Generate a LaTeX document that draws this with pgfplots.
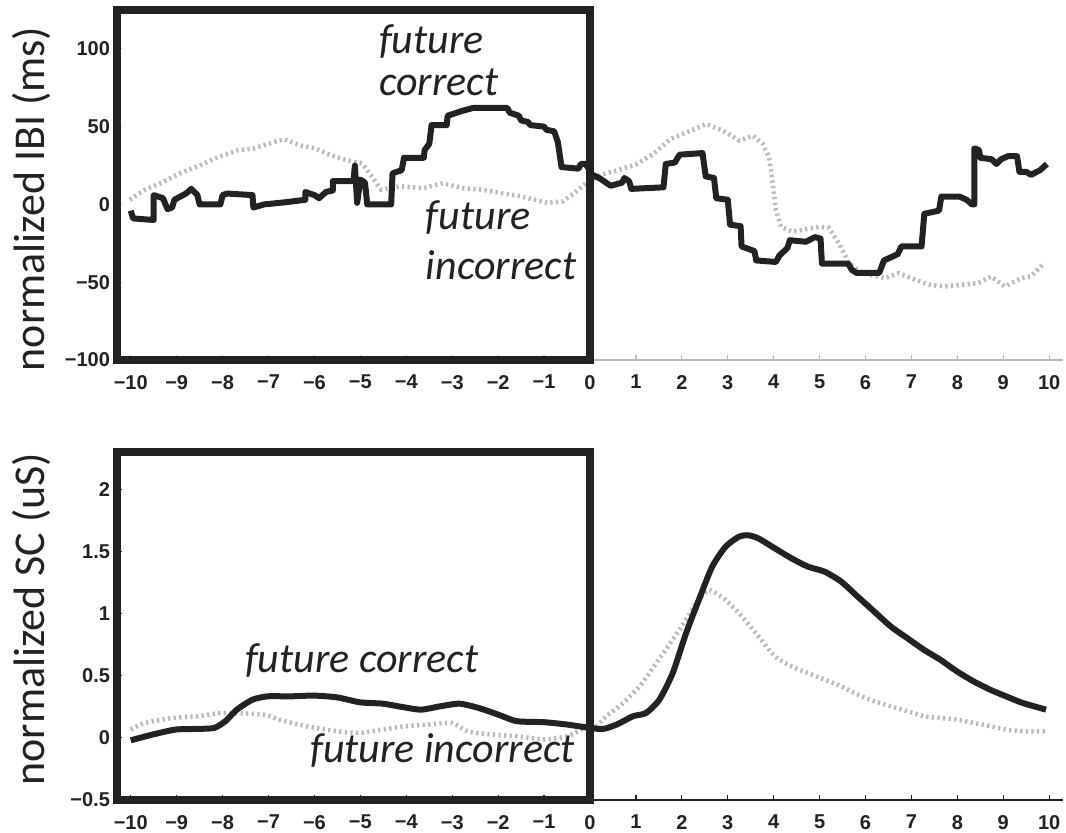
\documentclass[border=0pt]{standalone}
\usepackage{fontspec}
\setmainfont{Carlito}
\newfontfamily\tickfont{Liberation Sans}
\usepackage{pgfplots}
\pgfplotsset{compat=1.18}
\definecolor{ink}{HTML}{222222}
\definecolor{dotgray}{HTML}{B8B8B8}

\tikzset{
  corr/.style={ink, line width=3pt, line join=round},
  incorr/.style={dotgray, line width=2.3pt, dash pattern=on 1.1pt off 1.7pt},
  annot/.style={font=\itshape\fontsize{21}{22}\selectfont, text=ink, anchor=base west, inner sep=0pt},
  ylab/.style={font=\fontsize{22}{23}\selectfont, text=ink, rotate=90, anchor=center},
}
\pgfplotsset{
  panel/.style={
    scale only axis, width=473pt,
    xmin=-10.3, xmax=10.3,
    axis x line*=bottom, axis y line*=left,
    tick align=inside, major tick length=2.5pt,
    xtick={-10,-9,-8,-7,-6,-5,-4,-3,-2,-1,0,1,2,3,4,5,6,7,8,9,10},
    xticklabels={−10,−9,−8,−7,−6,−5,−4,−3,−2,−1,0,1,2,3,4,5,6,7,8,9,10},
    ticklabel style={font=\tickfont\bfseries\fontsize{10}{12}\selectfont, text=ink},
    xticklabel style={yshift=-4pt},
    clip=false,
  },
}

\begin{document}
\begin{tikzpicture}
\useasboundingbox (-58.5pt,-236.5pt) rectangle (474.5pt,180pt);

% ---------------- top panel ----------------
\begin{axis}[panel, at={(0,0)}, height=175pt,
  ymin=-100, ymax=125,
  ytick={-100,-50,0,50,100},
  yticklabels={−100,−50,0,50,100},
  axis line style={gray!55, line width=0.8pt},
  tick style={gray!55, line width=0.6pt},
]
\addplot[incorr] coordinates {
(-10.02,3) (-9.69,9.5) (-9.35,13.7) (-8.93,20) (-8.5,25) (-8.09,30.6)
(-7.67,34.8) (-7.33,36) (-7.0,39) (-6.66,42) (-6.32,38) (-5.98,36)
(-5.64,31.6) (-5.3,28.5) (-4.97,26.4) (-4.8,20) (-4.55,9.5) (-4.13,11.6)
(-3.62,10.5) (-3.2,13.7) (-2.78,10.5) (-2.36,9.5) (-1.94,7.4) (-1.52,5.3)
(-0.93,1) (-0.59,2) (-0.34,7.4) (-0.08,13.7) (0.22,19) (0.59,21.8)
(1.02,26) (1.38,32.5) (1.75,42) (2.1,46.3) (2.53,51.6) (2.9,47.4)
(3.25,41) (3.55,44.2) (3.76,38.9) (3.9,30.4) (3.98,13.3) (4.05,-3.7)
(4.16,-14.4) (4.4,-17.5) (4.99,-14.4) (5.2,-15) (5.42,-25) (5.64,-37.8)
(5.93,-44.2) (6.43,-47.4) (6.72,-44.2) (7.0,-47.4) (7.37,-51.6) (7.73,-52.7)
(8.1,-51.6) (8.45,-50.6) (8.73,-46.3) (9.03,-52.7) (9.39,-47.4) (9.6,-46.3)
(9.89,-37.8)
};
\addplot[corr] coordinates {
(-10,-4) (-9.95,-9) (-9.5,-10) (-9.5,6) (-9.3,4) (-9.2,-3) (-9.1,-2)
(-9.05,3) (-8.8,7) (-8.68,10) (-8.55,6) (-8.5,0) (-8.05,0) (-8.0,6)
(-7.9,7) (-7.35,6) (-7.33,-2) (-7.1,0) (-6.6,1.5) (-6.2,3) (-6.2,8)
(-6.0,6) (-5.9,4) (-5.75,8) (-5.6,9) (-5.6,15) (-5.15,15) (-5.12,25)
(-5.07,1) (-5.0,16) (-4.9,14) (-4.85,0) (-4.33,0) (-4.3,20) (-4.1,22)
(-4.05,30) (-3.62,30) (-3.6,35) (-3.5,39) (-3.45,51) (-3.12,51) (-3.1,57)
(-2.8,60) (-2.55,62) (-1.8,62) (-1.75,59) (-1.55,57) (-1.5,54) (-1.35,53)
(-1.3,51) (-1.0,50) (-0.95,48) (-0.78,47) (-0.7,40) (-0.62,24) (-0.25,23)
(-0.2,26) (-0.1,26) (0,22) (0.05,19) (0.2,17) (0.35,14) (0.45,12)
(0.7,14) (0.75,17) (0.85,15) (0.9,10) (1.6,11) (1.65,26) (1.85,27)
(1.95,32) (2.45,33) (2.52,18) (2.7,17) (2.75,4) (3.0,3) (3.05,-13)
(3.28,-14) (3.3,-27) (3.58,-30) (3.62,-36) (4.05,-37) (4.12,-33) (4.3,-28)
(4.35,-23) (4.7,-24) (4.9,-21) (5.02,-22) (5.05,-38) (5.62,-38) (5.7,-42)
(5.8,-44) (6.3,-44) (6.4,-36) (6.7,-32) (6.78,-27) (7.22,-27) (7.28,-6)
(7.6,-4) (7.65,5) (8.05,5) (8.2,3) (8.32,0) (8.37,0) (8.37,36)
(8.47,35) (8.5,30) (8.75,29) (8.85,26) (8.95,29) (9.1,31) (9.3,31)
(9.35,21) (9.5,21) (9.6,19) (9.8,22) (9.95,26)
};
\draw[ink, line width=3.6pt] (axis cs:-10.3,-100) rectangle (axis cs:0,125);
\node[annot] at (axis cs:-4.6,97) {future};
\node[annot] at (axis cs:-4.6,70) {correct};
\node[annot] at (axis cs:-3.58,-16) {future};
\node[annot] at (axis cs:-3.58,-48) {incorrect};
\node[ylab] at (rel axis cs:-0.09,0.46) {normalized IBI (ms)};
\end{axis}

% ---------------- bottom panel ----------------
\begin{axis}[panel, at={(0,-220pt)}, height=174pt,
  ymin=-0.5, ymax=2.3,
  ytick={-0.5,0,0.5,1,1.5,2},
  yticklabels={−0.5,0,0.5,1,1.5,2},
  axis line style={ink, line width=0.8pt},
  tick style={ink, line width=0.6pt},
]
\addplot[incorr, smooth, tension=0.4] coordinates {
(-10,0.067) (-9.69,0.12) (-9.1,0.16) (-8.52,0.174) (-8.02,0.2) (-7.1,0.187)
(-6.77,0.147) (-6.18,0.094) (-5.51,0.053) (-5.01,0.04) (-4.51,0.067) (-4.0,0.094)
(-3.5,0.107) (-3.0,0.12) (-2.67,0.053) (-2.17,0.027) (-1.59,0.013) (-1.0,-0.013)
(-0.5,0.013) (-0.17,0.067) (0.07,0.067) (0.36,0.174) (0.72,0.28) (1.08,0.414)
(1.44,0.6) (1.8,0.79) (2.09,0.95) (2.37,1.11) (2.59,1.19) (2.95,1.11)
(3.31,0.976) (3.67,0.816) (4.03,0.655) (4.39,0.575) (4.75,0.521) (5.11,0.468)
(5.47,0.414) (5.83,0.348) (6.19,0.294) (6.55,0.254) (6.91,0.214) (7.27,0.174)
(7.63,0.16) (7.99,0.147) (8.35,0.12) (8.71,0.094) (9.06,0.067) (9.42,0.053)
(9.93,0.053)
};
\addplot[corr, smooth, tension=0.4] coordinates {
(-10,-0.02) (-9.52,0.027) (-9.02,0.067) (-8.52,0.072) (-8.18,0.08) (-7.94,0.134)
(-7.69,0.227) (-7.35,0.307) (-7.02,0.334) (-6.52,0.334) (-6.02,0.34) (-5.51,0.326)
(-5.01,0.286) (-4.51,0.275) (-4.1,0.249) (-3.68,0.227) (-3.26,0.254) (-2.84,0.275)
(-2.42,0.24) (-2.0,0.187) (-1.59,0.134) (-1.0,0.126) (-0.5,0.107) (0,0.08)
(0.29,0.072) (0.58,0.107) (0.94,0.174) (1.22,0.2) (1.51,0.307) (1.8,0.52)
(2.09,0.84) (2.37,1.11) (2.66,1.377) (2.95,1.537) (3.24,1.618) (3.45,1.63)
(3.67,1.604) (4.03,1.524) (4.39,1.444) (4.75,1.377) (5.11,1.337) (5.47,1.257)
(5.83,1.136) (6.19,1.016) (6.55,0.896) (6.91,0.802) (7.27,0.709) (7.63,0.628)
(7.99,0.535) (8.35,0.455) (8.71,0.388) (9.06,0.334) (9.42,0.281) (9.93,0.227)
};
\draw[ink, line width=3.6pt] (axis cs:-10.3,-0.5) rectangle (axis cs:0,2.3);
\node[annot] at (axis cs:-7.52,0.524) {future correct};
\node[annot] at (axis cs:-6.1,-0.2) {future incorrect};
\node[ylab] at (rel axis cs:-0.09,0.52) {normalized SC (uS)};
\end{axis}
\end{tikzpicture}
\end{document}
